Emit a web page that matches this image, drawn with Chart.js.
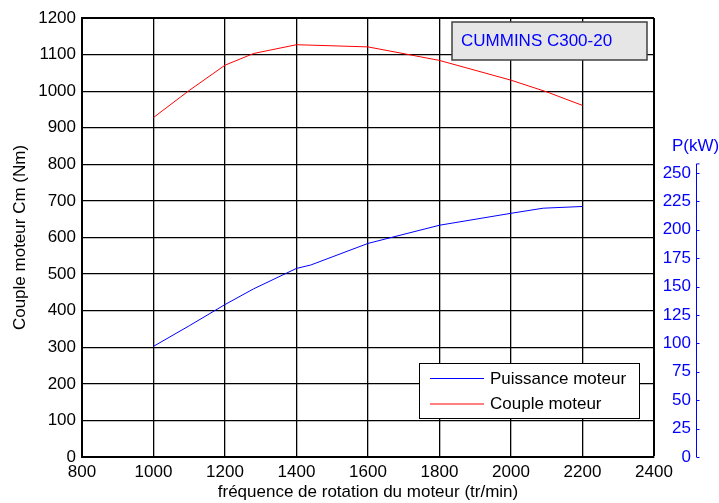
<!DOCTYPE html>
<html>
<head>
<meta charset="utf-8">
<script src="https://cdn.jsdelivr.net/npm/chart.js@4.4.1/dist/chart.umd.min.js"></script>
<style>
  html, body { margin: 0; padding: 0; background: #fff; }
</style>
</head>
<body>
<canvas id="moteur" width="719" height="503"></canvas>
<script>
// engine speed (tr/min) and values
var rpmCouple = [1000, 1100, 1200, 1280, 1400, 1600, 1800, 2000, 2100, 2200];
var couple = [928, 1002, 1071, 1103, 1127, 1121, 1084, 1030, 998, 961];
var rpmPuissance = [1000, 1100, 1200, 1280, 1400, 1440, 1600, 1800, 2000, 2090, 2200];
var puissance = [97.4, 115.5, 134.2, 148, 166, 169, 188, 204, 214.5, 219, 220.5];
var titre = 'CUMMINS C300-20';

var police = '"Liberation Sans", Arial, sans-serif';
var bleu = '#0000ff';

function pts(xs, ys) {
    var out = [];
    for (var i = 0; i < xs.length; i++) out.push({x: xs[i], y: ys[i]});
    return out;
}
function brut(v) { return String(v); }

// title box, legend box and the detached blue axis line (MATLAB look)
var habillage = {
    id: 'habillage',
    afterDraw: function(chart) {
        var ctx = chart.ctx;
        var p = chart.scales.yP;
        ctx.save();

        // blue axis line with inward ticks
        var ax = 696.5;
        var yTop = p.getPixelForValue(258);
        var yBot = p.getPixelForValue(0);
        ctx.strokeStyle = bleu;
        ctx.lineWidth = 1;
        ctx.beginPath();
        ctx.moveTo(ax, yBot);
        ctx.lineTo(ax, yTop);
        ctx.moveTo(ax, yTop);
        ctx.lineTo(ax + 3, yTop);
        p.ticks.forEach(function(t) {
            var y = Math.round(p.getPixelForValue(t.value)) + 0.5;
            ctx.moveTo(ax, y);
            ctx.lineTo(ax + 3, y);
        });
        ctx.stroke();
        ctx.fillStyle = bleu;
        ctx.font = '17px ' + police;
        ctx.textAlign = 'left';
        ctx.textBaseline = 'middle';
        ctx.fillText('P(kW)', 672, 146);

        // title box
        ctx.fillStyle = '#e6e6e6';
        ctx.fillRect(452, 22, 195, 38);
        ctx.strokeStyle = '#404040';
        ctx.lineWidth = 1.5;
        ctx.strokeRect(452, 22, 195, 38);
        ctx.fillStyle = bleu;
        ctx.fillText(titre, 461, 41);

        // legend box
        ctx.fillStyle = '#fff';
        ctx.fillRect(419.5, 363.5, 220, 55);
        ctx.strokeStyle = '#000';
        ctx.lineWidth = 1;
        ctx.strokeRect(419.5, 363.5, 220, 55);
        chart.data.datasets.forEach(function(ds, i) {
            var y = 378 + i * 25.5;
            ctx.strokeStyle = ds.borderColor;
            ctx.beginPath();
            ctx.moveTo(430, y + 0.5);
            ctx.lineTo(484, y + 0.5);
            ctx.stroke();
            ctx.fillStyle = '#000';
            ctx.fillText(ds.label, 490, y + 1);
        });
        ctx.restore();
    }
};

new Chart(document.getElementById('moteur'), {
    type: 'line',
    data: {
        datasets: [{
            label: 'Puissance moteur',
            data: pts(rpmPuissance, puissance),
            yAxisID: 'yP',
            borderColor: bleu,
            borderWidth: 1,
            pointRadius: 0,
            fill: false,
            tension: 0
        }, {
            label: 'Couple moteur',
            data: pts(rpmCouple, couple),
            yAxisID: 'y',
            borderColor: '#ff0000',
            borderWidth: 1,
            pointRadius: 0,
            fill: false,
            tension: 0
        }]
    },
    options: {
        responsive: false,
        animation: false,
        events: [],
        layout: { padding: { top: 18, left: 0, right: 28, bottom: 0 } },
        plugins: { legend: { display: false }, tooltip: { enabled: false } },
        scales: {
            x: {
                type: 'linear',
                min: 800,
                max: 2400,
                ticks: { stepSize: 200, color: '#000', padding: 5, callback: brut, font: { size: 17, family: police } },
                grid: {
                    color: '#000',
                    lineWidth: function(c) { return c.tick && c.tick.value === 2400 ? 2 : 1.3; },
                    drawTicks: false
                },
                border: { color: '#000', width: 2 },
                title: {
                    display: true,
                    text: 'fréquence de rotation du moteur (tr/min)',
                    color: '#000',
                    padding: { top: 0, bottom: 0 },
                    font: { size: 17, family: police }
                },
                afterFit: function(s) { s.height = 46; }
            },
            y: {
                position: 'left',
                min: 0,
                max: 1200,
                ticks: { stepSize: 100, color: '#000', padding: 6, callback: brut, font: { size: 17, family: police } },
                grid: {
                    color: '#000',
                    lineWidth: function(c) { return c.tick && c.tick.value === 1200 ? 2 : 1.3; },
                    drawTicks: false
                },
                border: { color: '#000', width: 2 },
                title: {
                    display: true,
                    text: 'Couple moteur Cm (Nm)',
                    color: '#000',
                    padding: { top: 10, bottom: 0 },
                    font: { size: 17, family: police }
                },
                afterFit: function(s) { s.width = 82; }
            },
            yP: {
                position: 'right',
                min: 0,
                max: 386.4,
                ticks: {
                    stepSize: 25,
                    color: bleu,
                    padding: 0,
                    crossAlign: 'far',
                    callback: brut,
                    font: { size: 17, family: police }
                },
                afterBuildTicks: function(s) {
                    s.ticks = s.ticks.filter(function(t) { return t.value <= 250; });
                },
                grid: { display: false, drawTicks: false },
                border: { display: false },
                afterFit: function(s) { s.width = 37; }
            }
        }
    },
    plugins: [habillage]
});
</script>
</body>
</html>
